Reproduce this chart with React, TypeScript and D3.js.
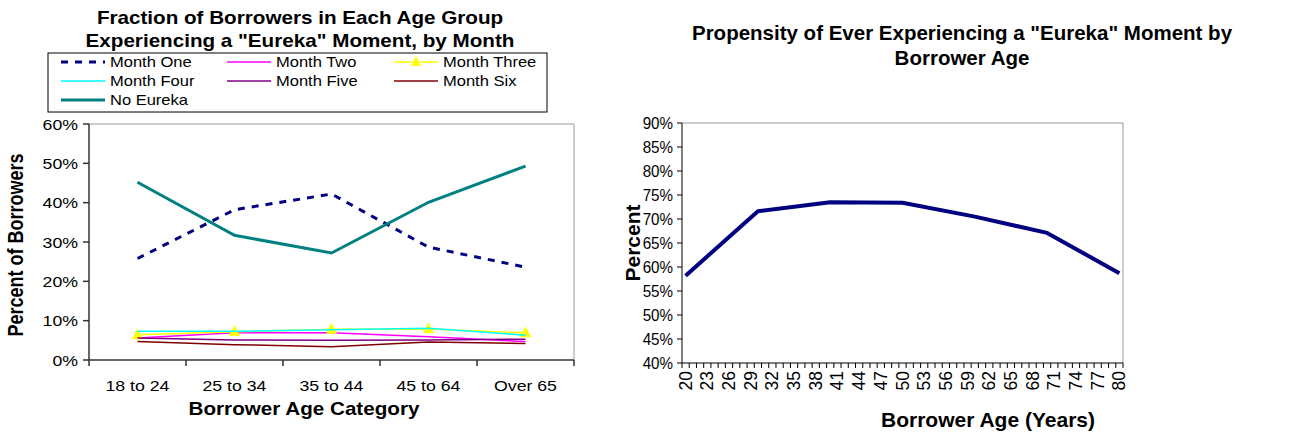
import * as d3 from 'd3';

// left chart data (percent of borrowers)
const ageGroups = ['18 to 24', '25 to 34', '35 to 44', '45 to 64', 'Over 65'];
const monthOne = [25.8, 38.2, 42.2, 28.7, 23.6];
const monthTwo = [5.6, 6.9, 6.9, 5.9, 4.7];
const monthThree = [6.4, 7.2, 7.8, 7.9, 6.9];
const monthFour = [7.3, 7.3, 7.7, 8.1, 6.3];
const monthFive = [5.6, 5.1, 5.0, 5.1, 5.3];
const monthSix = [4.7, 3.9, 3.4, 4.6, 4.2];
const noEureka = [45.2, 31.7, 27.2, 40.1, 49.3];
const leftTicks = [0, 10, 20, 30, 40, 50, 60];

// right chart data
const ages = [
  20, 21, 22, 23, 24, 25, 26, 27, 28, 29, 30, 31, 32, 33, 34, 35, 36, 37, 38, 39, 40,
  41, 42, 43, 44, 45, 46, 47, 48, 49, 50, 51, 52, 53, 54, 55, 56, 57, 58, 59, 60,
  61, 62, 63, 64, 65, 66, 67, 68, 69, 70, 71, 72, 73, 74, 75, 76, 77, 78, 79, 80,
];
const ageLabels = [20, 23, 26, 29, 32, 35, 38, 41, 44, 47, 50, 53, 56, 59, 62, 65, 68, 71, 74, 77, 80];
const eurekaAges = [20, 30, 40, 50, 60, 70, 80];
const eurekaPct = [58.2, 71.6, 73.5, 73.4, 70.5, 67.1, 58.7];
const rightTicks = [40, 45, 50, 55, 60, 65, 70, 75, 80, 85, 90];

const FONT = '"Liberation Sans", Arial, sans-serif';

function T(props: {
  x: number; y: number; sx?: number; rot?: number; size: number; bold?: boolean;
  anchor?: string; children: any;
}) {
  const { x, y, sx = 1, rot = 0, size, bold, anchor = 'start', children } = props;
  return (
    <text
      transform={`translate(${x},${y}) scale(${sx},1) rotate(${rot})`}
      fontSize={size}
      fontWeight={bold ? 'bold' : 'normal'}
      textAnchor={anchor}
      fontFamily={FONT}
      fill="#000"
    >
      {children}
    </text>
  );
}

const leftSeries = [
  { name: 'Month One', values: monthOne, color: '#000080', width: 3, dash: '7,7' },
  { name: 'Month Two', values: monthTwo, color: '#ff00ff', width: 1.5 },
  { name: 'Month Three', values: monthThree, color: '#ffff00', width: 1.5, marker: true },
  { name: 'Month Four', values: monthFour, color: '#00ffff', width: 1.5 },
  { name: 'Month Five', values: monthFive, color: '#800080', width: 1.5 },
  { name: 'Month Six', values: monthSix, color: '#800000', width: 1.5 },
  { name: 'No Eureka', values: noEureka, color: '#008080', width: 3 },
];

function tri(cx: number, cy: number, s: number) {
  return `M${cx},${cy - s * 0.6}L${cx + s / 2},${cy + s * 0.4}L${cx - s / 2},${cy + s * 0.4}Z`;
}

function LeftChart() {
  const sx = 1.18;
  const x = d3.scaleBand<string>().domain(ageGroups).range([89, 574]);
  const y = d3.scaleLinear().domain([0, 60]).range([360, 124]);
  const cx = (c: string) => (x(c) as number) + x.bandwidth() / 2;
  const line = d3.line<number>().x((_, i) => cx(ageGroups[i])).y((d) => y(d));
  const bounds = [...ageGroups.map((c) => x(c) as number), 574];

  const legendCols = [61, 227, 394];
  const legendRows = [62, 81, 100];

  return (
    <g>
      <T x={300} y={24} sx={sx} size={17.5} bold anchor="middle">Fraction of Borrowers in Each Age Group</T>
      <T x={300} y={47} sx={sx} size={17.5} bold anchor="middle">Experiencing a "Eureka" Moment, by Month</T>

      <rect x={48} y={53} width={499} height={59} fill="#fff" stroke="#000" strokeWidth={1} />
      {leftSeries.map((s, i) => {
        const lx = legendCols[i % 3];
        const ly = legendRows[Math.floor(i / 3)];
        return (
          <g key={s.name}>
            <line x1={lx} x2={lx + 44} y1={ly} y2={ly} stroke={s.color} strokeWidth={s.width}
              strokeDasharray={s.dash} />
            {s.marker && <path d={tri(lx + 22, ly, 10)} fill={s.color} />}
            <T x={lx + 49} y={ly + 5} sx={sx} size={14}>{s.name}</T>
          </g>
        );
      })}

      <line x1={89} x2={574} y1={124} y2={124} stroke="#999" />
      <line x1={574} x2={574} y1={124} y2={360} stroke="#999" />
      <line x1={89} x2={89} y1={124} y2={360} stroke="#333" strokeWidth={1.5} />
      <line x1={89} x2={574} y1={360} y2={360} stroke="#333" strokeWidth={1.5} />

      {leftTicks.map((t) => (
        <g key={t}>
          <line x1={83} x2={89} y1={y(t)} y2={y(t)} stroke="#333" strokeWidth={1.5} />
          <T x={78} y={y(t) + 5.5} sx={sx} size={15} anchor="end">{t + '%'}</T>
        </g>
      ))}
      {bounds.map((b, i) => (
        <line key={i} x1={b} x2={b} y1={360} y2={366} stroke="#333" strokeWidth={1.5} />
      ))}
      {ageGroups.map((c) => (
        <T key={c} x={cx(c)} y={391} sx={sx} size={15} anchor="middle">{c}</T>
      ))}

      {leftSeries.map((s) => (
        <g key={s.name}>
          <path d={line(s.values) as string} fill="none" stroke={s.color} strokeWidth={s.width}
            strokeDasharray={s.dash} />
          {s.marker && s.values.map((v, i) => (
            <path key={i} d={tri(cx(ageGroups[i]), y(v), 11)} fill={s.color} />
          ))}
        </g>
      ))}

      <T x={304} y={415} sx={sx} size={17.5} bold anchor="middle">Borrower Age Category</T>
      <T x={23} y={245} sx={sx} size={18} bold anchor="middle" rot={-90}>Percent of Borrowers</T>
    </g>
  );
}

function RightChart() {
  const sx = 0.92;
  const x = d3.scaleBand<number>().domain(ages).range([682, 1123]);
  const y = d3.scaleLinear().domain([40, 90]).range([363, 123]);
  const cx = (a: number) => (x(a) as number) + x.bandwidth() / 2;
  const line = d3.line<number>().x((_, i) => cx(eurekaAges[i])).y((d) => y(d));
  const bounds = [...ages.map((a) => x(a) as number), 1123];

  return (
    <g>
      <T x={962} y={40} size={20.5} bold anchor="middle">Propensity of Ever Experiencing a "Eureka" Moment by</T>
      <T x={962} y={65} size={20.5} bold anchor="middle">Borrower Age</T>

      <line x1={682} x2={1123} y1={123} y2={123} stroke="#999" />
      <line x1={1123} x2={1123} y1={123} y2={363} stroke="#999" />
      <line x1={682} x2={682} y1={123} y2={363} stroke="#000" />
      <line x1={682} x2={1123} y1={363} y2={363} stroke="#000" />

      {rightTicks.map((t) => (
        <g key={t}>
          <line x1={677} x2={682} y1={y(t)} y2={y(t)} stroke="#000" />
          <T x={673} y={y(t) + 6} sx={sx} size={16.5} anchor="end">{t + '%'}</T>
        </g>
      ))}
      {bounds.map((b, i) => (
        <line key={i} x1={b} x2={b} y1={363} y2={368} stroke="#000" />
      ))}
      {ageLabels.map((a) => (
        <T key={a} x={cx(a) + 6} y={371} size={17.5} anchor="end" rot={-90}>{a}</T>
      ))}

      <path d={line(eurekaPct) as string} fill="none" stroke="#000080" strokeWidth={4}
        strokeLinejoin="round" />

      <T x={988} y={427} size={21} bold anchor="middle">Borrower Age (Years)</T>
      <T x={640} y={243} sx={sx} size={21} bold anchor="middle" rot={-90}>Percent</T>
    </g>
  );
}

export default function App() {
  return (
    <svg width={1297} height={434} style={{ position: 'absolute', left: 0, top: 0, background: '#fff' }}>
      <rect width={1297} height={434} fill="#fff" />
      <LeftChart />
      <RightChart />
    </svg>
  );
}
